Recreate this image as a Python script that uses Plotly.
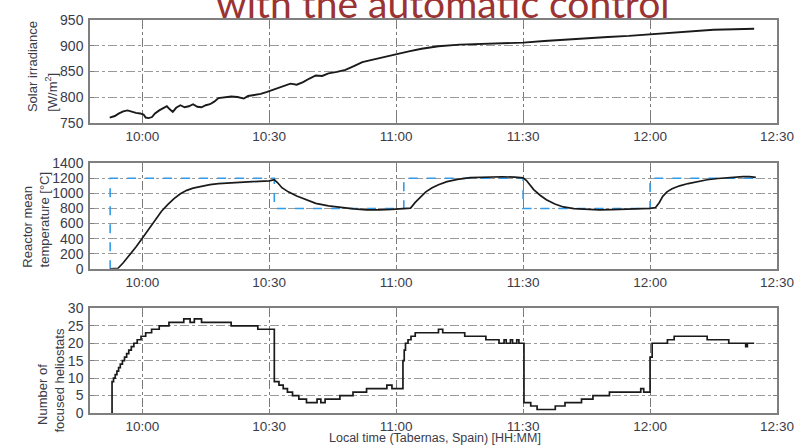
import plotly.graph_objects as go
from plotly.subplots import make_subplots
import pandas as pd

# ---- data (times in minutes relative to 10:00 local time) ----
irr_min = [-7.7, -6.5, -5.5, -4.5, -3.5, -2.5, -1.5, -0.5, 0.3, 0.8, 1.5, 2.3, 3.0, 4.0, 5.0,
           5.8, 6.5, 7.2, 8.0, 9.0, 10.0, 11.0, 12.0, 13.0, 14.0, 15.0, 16.0, 17.0, 18.0,
           19.5, 21.0, 22.5, 24.0, 25.0, 26.5, 28.0, 29.5, 31.0, 32.5, 34.0, 35.0, 36.5,
           38.0, 39.5, 41.0, 42.5, 44.0, 46.0, 48.0, 50.0, 52.0, 54.0, 56.0, 58.0, 60.0,
           63.0, 66.0, 70.0, 75.0, 80.0, 85.0, 90.0, 95.0, 100.0, 105.0, 110.0, 115.0,
           120.0, 125.0, 130.0, 135.0, 140.0, 144.6]
irr_val = [760, 763, 768, 772, 774, 771, 769, 768, 766, 760, 759, 761, 768, 774, 778,
           782, 776, 771, 779, 784, 780, 782, 786, 781, 780, 784, 786, 791, 798,
           800, 801, 800, 797, 802, 804, 806, 810, 814, 818, 822, 826, 824,
           829, 836, 842, 841, 846, 849, 853, 860, 868, 872, 876, 879, 883,
           889, 894, 899, 902, 903, 905, 906, 909, 912, 914, 917, 919,
           922, 925, 929, 931, 932, 933]

temp_min = [-7.6, -5.8, -4.5, -3.0, -1.5, 0.0, 1.5, 3.0, 4.5, 6.0, 7.5, 9.0, 10.5, 12.0,
            14.0, 16.0, 18.0, 20.0, 22.0, 24.0, 26.0, 28.0, 30.0, 31.2, 32.0, 33.0, 34.5,
            36.5, 38.5, 41.0, 44.0, 47.0, 50.0, 53.0, 56.0, 59.0, 62.0, 63.4, 64.5, 65.8,
            67.0, 68.5, 70.0, 72.0, 74.5, 77.5, 81.0, 85.0, 88.0, 90.0, 90.8, 92.5, 94.0,
            95.5, 97.5, 99.5, 102.0, 105.0, 108.0, 111.0, 114.0, 117.0, 120.0, 121.3, 122.2,
            123.0, 124.0, 125.2, 127.0, 129.0, 131.0, 133.5, 136.0, 139.0, 142.0, 143.5, 145.0]
temp_val = [0, 5, 80, 180, 290, 405, 520, 640, 760, 850, 930, 995, 1040, 1070,
            1095, 1115, 1128, 1138, 1145, 1150, 1155, 1158, 1165, 1180, 1140, 1075, 1020,
            965, 920, 868, 835, 812, 795, 782, 780, 788, 798, 805, 880, 960,
            1020, 1075, 1115, 1155, 1185, 1208, 1218, 1220, 1215, 1205, 1170, 1050, 975,
            915, 860, 820, 798, 785, 782, 785, 790, 795, 800, 812, 880,
            960, 1020, 1060, 1100, 1130, 1155, 1180, 1197, 1212, 1222, 1222, 1212]

setp_min = [-7.7, -7.6, 31.2, 61.8, 90.0, 120.0, 145.0]
setp_val = [0, 1200, 800, 1200, 800, 1200, 1200]

hel_min = [-7.2, -7.15, -6.8, -6.4, -6.0, -5.6, -5.2, -4.7, -4.2, -3.7, -3.2, -2.6, -2.0,
           -1.2, -0.3, 0.8, 2.2, 4.0, 6.3, 9.8, 11.3, 12.3, 14.0, 21.0, 27.3, 31.2, 32.3,
           33.3, 34.3, 35.5, 37.0, 38.8, 41.3, 42.2, 43.2, 46.7, 49.8, 53.0, 57.8, 59.0,
           61.6, 61.9, 62.2, 62.8, 63.5, 64.5, 70.0, 71.0, 76.2, 81.2, 84.3, 85.5, 86.0,
           87.0, 87.5, 88.5, 89.0, 90.2, 91.8, 93.3, 97.6, 99.9, 103.8, 106.5, 110.4,
           117.8, 118.5, 120.0, 120.5, 124.1, 125.7, 133.5, 138.6, 142.6, 143.0, 144.6]
hel_val = [0, 9, 10, 11, 12, 13, 14, 15, 16, 17, 18, 19, 20,
           21, 22, 23, 24, 25, 26, 27, 26, 27, 26, 25, 24, 9, 8,
           7, 6, 5, 4, 3, 4, 3, 4, 5, 6, 7, 8, 7,
           15, 18, 20, 21, 22, 23, 24, 23, 22, 21, 20, 21, 20,
           21, 20, 21, 20, 3, 2, 1, 2, 3, 4, 5, 6,
           7, 6, 16, 20, 21, 22, 21, 20, 19, 20, 20]

x_ticks = ["10:00", "10:30", "11:00", "11:30", "12:00", "12:30"]

base = pd.Timestamp("2024-01-01 10:00:00")
def tt(mins):
    return [base + pd.Timedelta(minutes=m) for m in mins]

fig = make_subplots(rows=3, cols=1)

fig.add_trace(go.Scatter(x=tt(irr_min), y=irr_val, mode="lines",
                         line=dict(color="#1a1a1a", width=1.9)), row=1, col=1)
fig.add_trace(go.Scatter(x=tt(setp_min), y=setp_val, mode="lines", line_shape="hv",
                         line=dict(color="#2f9bea", width=1.6, dash="dash")), row=2, col=1)
fig.add_trace(go.Scatter(x=tt(temp_min), y=temp_val, mode="lines",
                         line=dict(color="#1a1a1a", width=1.7)), row=2, col=1)
fig.add_trace(go.Scatter(x=tt(hel_min), y=hel_val, mode="lines", line_shape="hv",
                         line=dict(color="#1a1a1a", width=1.7)), row=3, col=1)

xrange = [base + pd.Timedelta(minutes=-12.36), base + pd.Timedelta(minutes=150)]
tickvals = [pd.Timestamp("2024-01-01 " + t) for t in x_ticks]

axis_font = dict(family="Liberation Sans, Arial, sans-serif", size=14, color="#3b3b48")
xtick_font = dict(family="Liberation Sans, Arial, sans-serif", size=13.5, color="#3b3b48")
common_x = dict(range=xrange, tickvals=tickvals, ticktext=x_ticks, showgrid=True,
                gridcolor="#7a7a7a", griddash="dashdot", gridwidth=1,
                showline=True, linecolor="#7f7f7f", linewidth=1.5, mirror="ticks",
                ticks="inside", ticklen=4, tickcolor="#7f7f7f", tickfont=xtick_font,
                zeroline=False, ticklabelstandoff=0)
common_y = dict(showgrid=True, gridcolor="#9a9a9a", griddash="dashdot", gridwidth=1,
                showline=True, linecolor="#7f7f7f", linewidth=1.5, mirror="ticks",
                ticks="inside", ticklen=4, tickcolor="#7f7f7f", tickfont=axis_font,
                zeroline=False, ticklabelstandoff=2)

fig.update_xaxes(**common_x)
fig.update_yaxes(**common_y)

fig.update_layout(
    width=806, height=447,
    margin=dict(l=90, r=20, t=15, b=34),
    paper_bgcolor="white", plot_bgcolor="white",
    showlegend=False,
    xaxis=dict(domain=[0, 1]),
    yaxis=dict(domain=[0.7387, 1.0], range=[750, 950], tickvals=[750, 800, 850, 900, 950]),
    xaxis2=dict(domain=[0, 1]),
    yaxis2=dict(domain=[0.3668, 0.6357], range=[0, 1400],
                tickvals=[0, 200, 400, 600, 800, 1000, 1200, 1400]),
    xaxis3=dict(domain=[0, 1]),
    yaxis3=dict(domain=[0, 0.2663], range=[0, 30], tickvals=[0, 5, 10, 15, 20, 25, 30]),
)

lab_font = dict(family="Liberation Sans, Arial, sans-serif", size=13, color="#3b3b48")
def px_x(p):
    return (p - 90) / 696.0
def px_y(p):
    return (413 - p) / 398.0

# (text, x-centre px, bottom px)
ytitle_lines = [("Solar irradiance", 32, 110), ("[W/m<sup>2</sup>]", 51, 110),
                ("Reactor mean", 27, 268), ("temperature [°C]", 44, 268),
                ("Number of", 42, 427), ("focused heliostats", 59, 435)]
for txt, xc, yb in ytitle_lines:
    fig.add_annotation(text=txt, xref="paper", yref="paper", x=px_x(xc), y=px_y(yb),
                       xanchor="center", yanchor="bottom", textangle=-90, showarrow=False,
                       font=lab_font)

fig.add_annotation(text="Local time (Tabernas, Spain) [HH:MM]", xref="paper", yref="paper",
                   x=px_x(440), y=px_y(447), xanchor="center", yanchor="bottom",
                   showarrow=False,
                   font=dict(family="Liberation Sans, Arial, sans-serif", size=12.5,
                             color="#3b3b48"))

fig.add_annotation(text="with the automatic control", xref="paper", yref="paper",
                   x=px_x(448), y=px_y(23), xanchor="center", yanchor="bottom",
                   showarrow=False,
                   font=dict(family="Lato, Open Sans, sans-serif", size=39, color="#9b3333"))

fig.write_html("out.html")
